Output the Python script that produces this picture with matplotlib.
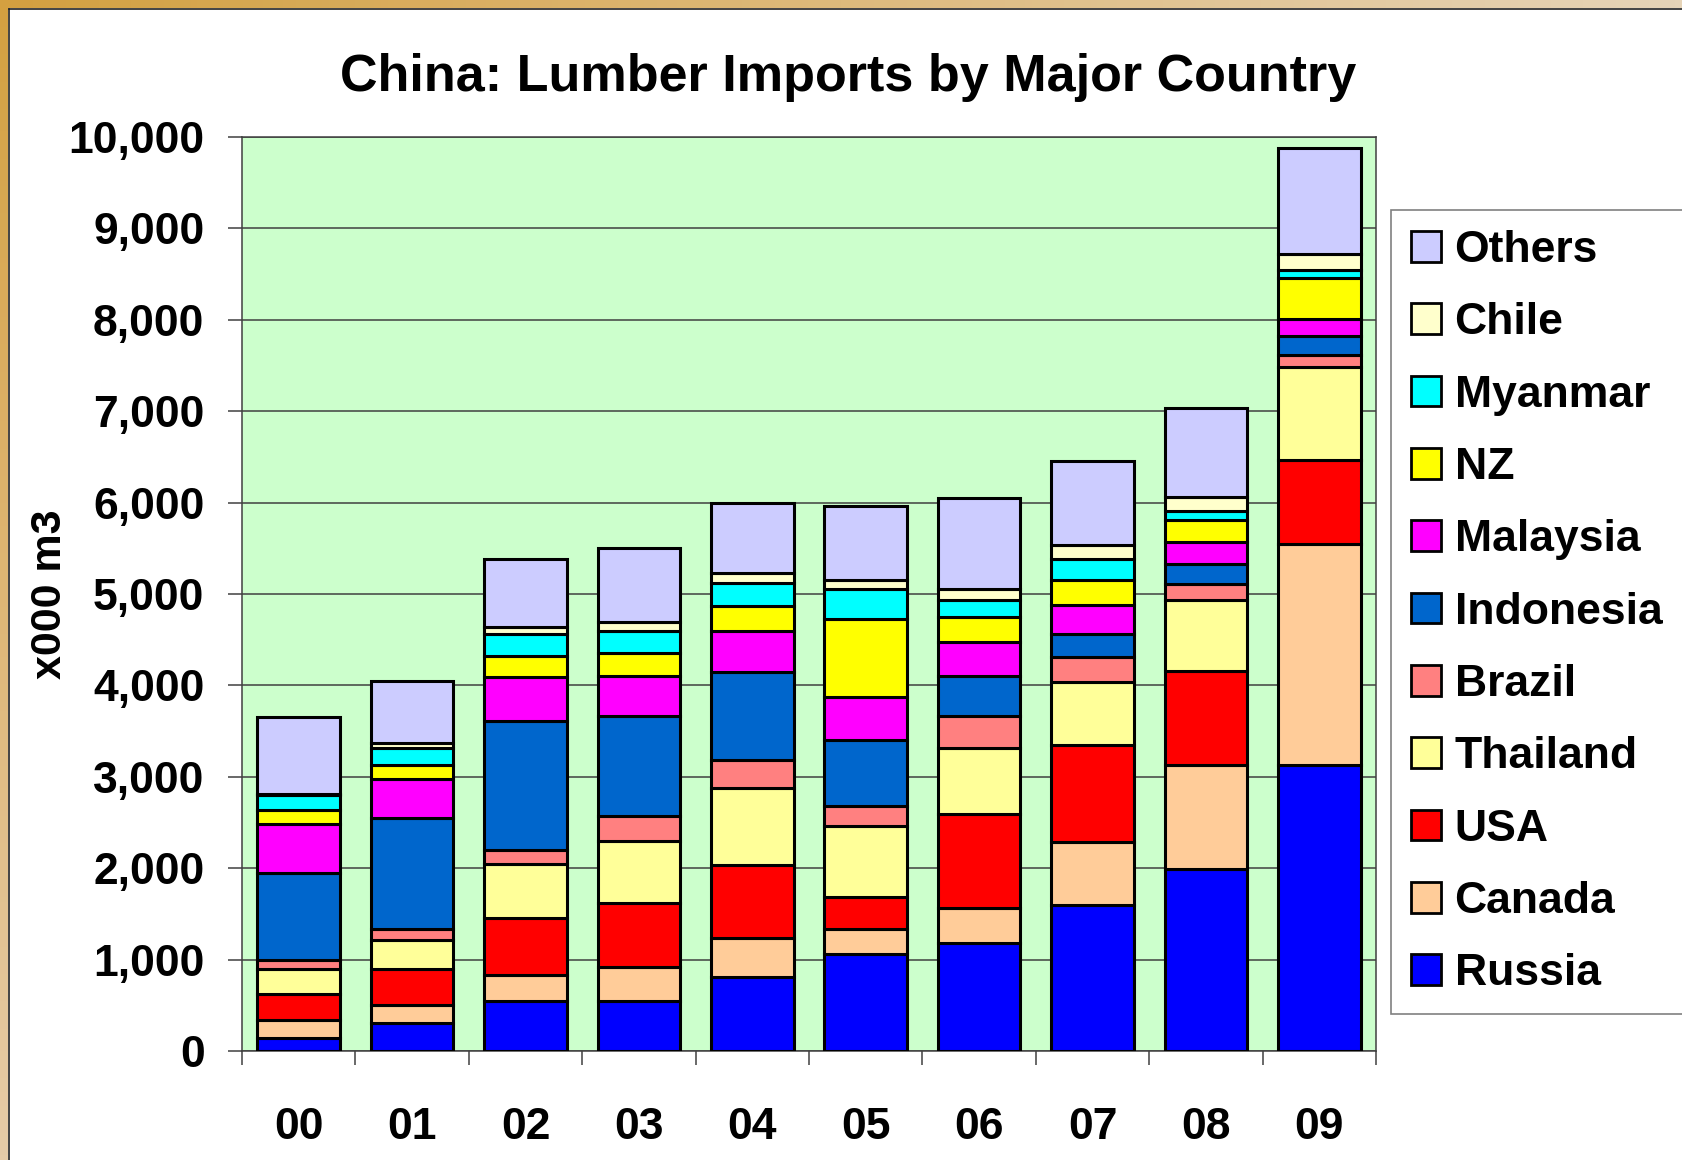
import matplotlib
matplotlib.use("Agg")
import matplotlib.pyplot as plt
import numpy as np
from matplotlib.patches import Patch

# data (x000 m3)
years = ['00', '01', '02', '03', '04', '05', '06', '07', '08', '09']
russia = [146, 303, 550, 550, 813, 1057, 1183, 1596, 1987, 3130]
canada = [193, 197, 281, 372, 426, 282, 378, 687, 1143, 2421]
usa = [281, 400, 621, 694, 791, 348, 1035, 1065, 1033, 914]
thailand = [274, 314, 594, 681, 848, 778, 717, 687, 772, 1022]
brazil = [102, 117, 153, 277, 305, 218, 348, 281, 179, 130]
indonesia = [955, 1218, 1415, 1094, 969, 721, 439, 247, 215, 209]
malaysia = [532, 427, 481, 438, 441, 466, 372, 316, 240, 187]
nz = [154, 153, 230, 252, 281, 853, 277, 272, 237, 445]
myanmar = [160, 189, 237, 240, 243, 336, 190, 230, 97, 84]
chile = [10, 48, 73, 95, 117, 92, 120, 159, 162, 177]
others = [843, 682, 747, 813, 766, 816, 995, 912, 967, 1163]

series = [("Russia", russia, "#0000FF"),
          ("Canada", canada, "#FFCC99"),
          ("USA", usa, "#FF0000"),
          ("Thailand", thailand, "#FFFF99"),
          ("Brazil", brazil, "#FF8080"),
          ("Indonesia", indonesia, "#0066CC"),
          ("Malaysia", malaysia, "#FF00FF"),
          ("NZ", nz, "#FFFF00"),
          ("Myanmar", myanmar, "#00FFFF"),
          ("Chile", chile, "#FFFFCC"),
          ("Others", others, "#CCCCFF")]

plt.rcParams['font.family'] = ['Liberation Sans', 'DejaVu Sans']
plt.rcParams['font.weight'] = 'bold'

W, H = 1682, 1160
fig = plt.figure(figsize=(W / 100, H / 100), dpi=100)
fig.patch.set_facecolor('white')

# gold frame on top and left
top_band = fig.add_axes([0, 1 - 8 / H, 1, 8 / H])
top_band.imshow(np.linspace(0, 1, 256)[None, :], aspect='auto',
                cmap=matplotlib.colors.LinearSegmentedColormap.from_list('t', ['#D4A040', '#E6D4B8']))
top_band.axis('off')
left_band = fig.add_axes([0, 0, 8 / W, 1])
left_band.imshow(np.linspace(0, 1, 256)[:, None], aspect='auto',
                 cmap=matplotlib.colors.LinearSegmentedColormap.from_list('l', ['#D4A040', '#E6CCA8']))
left_band.axis('off')
fig.add_artist(plt.Line2D([9 / W, 9 / W], [0, 1 - 9 / H], color='#222222', lw=1.2))
fig.add_artist(plt.Line2D([9 / W, 1], [1 - 9 / H, 1 - 9 / H], color='#222222', lw=1.2))

ax = fig.add_axes([242 / W, 109 / H, 1134 / W, 914 / H])
ax.set_facecolor('#CCFFCC')

x = np.arange(len(years))
bottom = np.zeros(len(years))
for name, vals, col in series:
    ax.bar(x, vals, width=0.73, bottom=bottom, color=col, edgecolor='black',
           linewidth=2.2, label=name, zorder=3)
    bottom += np.array(vals)

ax.set_xlim(-0.5, len(years) - 0.5)
ax.set_ylim(0, 10000)
ax.set_yticks(range(0, 10001, 1000))
ax.set_yticklabels(["{:,}".format(v) for v in range(0, 10001, 1000)])
ax.yaxis.grid(True, color='#404040', lw=1.1, zorder=1)
ax.set_xticks(x)
ax.set_xticklabels(years)
ax.set_xticks(np.arange(-0.5, len(years), 1), minor=True)
ax.tick_params(axis='x', which='major', length=0, pad=40, labelsize=32)
ax.tick_params(axis='x', which='minor', length=10, width=1.1, color='#404040')
ax.tick_params(axis='y', length=10, width=1.1, color='#404040', pad=17, labelsize=32)
for s in ax.spines.values():
    s.set_color('#404040')
    s.set_linewidth(1.1)

fig.text(848 / W, 1 - 78 / H, "China: Lumber Imports by Major Country",
         ha='center', va='center', fontsize=37.5, fontweight='bold')
fig.text(50 / W, 1 - 594 / H, "x000 m3", rotation=90, ha='center', va='center',
         fontsize=31, fontweight='bold')

handles = [Patch(facecolor=col, edgecolor='black', linewidth=2) for name, vals, col in series][::-1]
labels = [name for name, vals, col in series][::-1]
leg = fig.legend(handles, labels, loc='upper left',
                 bbox_to_anchor=(1391 / W, 1 - 1008 / H, (W - 1391 + 10) / W, 798 / H),
                 mode='expand', fontsize=32, frameon=True, fancybox=False, edgecolor='#606060',
                 handlelength=0.68, handleheight=0.68, handletextpad=0.3,
                 labelspacing=0.705, borderpad=0.45, borderaxespad=0)
leg.get_frame().set_linewidth(1.2)

fig.savefig("out.png", dpi=100)
